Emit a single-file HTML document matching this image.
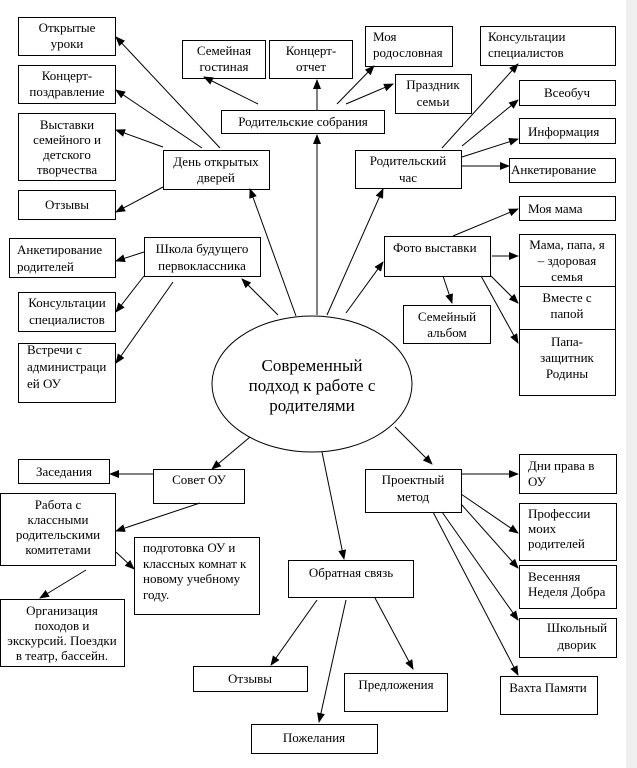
<!DOCTYPE html>
<html><head><meta charset="utf-8"><style>
html,body{margin:0;padding:0;background:#fff}
svg{display:block}
text{font-family:"Liberation Serif","DejaVu Serif",serif;font-size:13px;fill:#000}
</style></head><body>
<svg width="637" height="768" viewBox="0 0 637 768" xmlns="http://www.w3.org/2000/svg">
<defs><marker id="a" markerWidth="10" markerHeight="8" refX="9" refY="4" orient="auto" markerUnits="userSpaceOnUse"><path d="M0,0 L10,4 L0,8 z" fill="#000"/></marker></defs>
<rect x="626" y="0" width="11" height="768" fill="#f0f0f0"/>
<g fill="#fff" stroke="#000" stroke-width="1">
<rect x="18.5" y="17.5" width="97" height="38"/>
<rect x="18.5" y="65.5" width="97" height="38"/>
<rect x="18.5" y="113.5" width="97" height="67"/>
<rect x="18.5" y="190.5" width="97" height="29"/>
<rect x="163.5" y="150.5" width="106" height="39"/>
<rect x="182.5" y="40.5" width="83" height="38"/>
<rect x="269.5" y="40.5" width="83" height="38"/>
<rect x="221.5" y="110.5" width="163" height="23"/>
<rect x="9.5" y="238.5" width="106" height="39"/>
<rect x="144.5" y="237.5" width="116" height="39"/>
<rect x="18.5" y="292.5" width="97" height="39"/>
<rect x="18.5" y="343.5" width="97" height="59"/>
<rect x="365.5" y="26.5" width="87" height="40"/>
<rect x="395.5" y="74.5" width="76" height="39"/>
<rect x="480.5" y="26.5" width="135" height="39"/>
<rect x="519.5" y="80.5" width="96" height="25"/>
<rect x="519.5" y="118.5" width="96" height="25"/>
<rect x="355.5" y="150.5" width="106" height="38"/>
<rect x="509.5" y="158.5" width="106" height="24"/>
<rect x="519.5" y="196.5" width="96" height="24"/>
<rect x="384.5" y="236.5" width="106" height="40"/>
<rect x="519.5" y="234.5" width="96" height="52"/>
<rect x="519.5" y="286.5" width="96" height="43"/>
<rect x="519.5" y="329.5" width="96" height="66"/>
<rect x="403.5" y="305.5" width="87" height="38"/>
<ellipse cx="312" cy="384" rx="100" ry="68"/>
<rect x="18.5" y="459.5" width="91" height="24"/>
<rect x="153.5" y="469.5" width="91" height="34"/>
<rect x="0.5" y="493.5" width="115" height="72"/>
<rect x="134.5" y="537.5" width="125" height="77"/>
<rect x="0.5" y="599.5" width="124" height="67"/>
<rect x="193.5" y="666.5" width="114" height="25"/>
<rect x="288.5" y="560.5" width="125" height="37"/>
<rect x="251.5" y="724.5" width="126" height="29"/>
<rect x="365.5" y="469.5" width="96" height="43"/>
<rect x="519.5" y="454.5" width="97" height="39"/>
<rect x="519.5" y="503.5" width="97" height="57"/>
<rect x="519.5" y="565.5" width="97" height="43"/>
<rect x="519.5" y="618.5" width="97" height="39"/>
<rect x="500.5" y="676.5" width="97" height="38"/>
<rect x="344.5" y="673.5" width="103" height="38"/>
</g>
<g stroke="#000" stroke-width="1" marker-end="url(#a)">
<line x1="296" y1="316" x2="250" y2="189"/>
<line x1="278" y1="315" x2="242" y2="279"/>
<line x1="317" y1="315" x2="317" y2="135"/>
<line x1="317" y1="110" x2="317" y2="80"/>
<line x1="258" y1="104" x2="204" y2="77"/>
<line x1="337" y1="104" x2="374" y2="66"/>
<line x1="346" y1="104" x2="393" y2="84"/>
<line x1="327" y1="315" x2="383" y2="189"/>
<line x1="346" y1="313" x2="383" y2="262"/>
<line x1="220" y1="148" x2="116" y2="37"/>
<line x1="202" y1="148" x2="116" y2="90"/>
<line x1="163" y1="147" x2="116" y2="130"/>
<line x1="163" y1="187" x2="116" y2="212"/>
<line x1="144" y1="252" x2="116" y2="261"/>
<line x1="144" y1="276" x2="116" y2="312"/>
<line x1="173" y1="282" x2="116" y2="363"/>
<line x1="442" y1="148" x2="518" y2="64"/>
<line x1="462" y1="146" x2="518" y2="100"/>
<line x1="462" y1="157" x2="518" y2="139"/>
<line x1="462" y1="166" x2="509" y2="166"/>
<line x1="453" y1="236" x2="518" y2="209"/>
<line x1="492" y1="256" x2="518" y2="256"/>
<line x1="491" y1="276" x2="518" y2="303"/>
<line x1="481" y1="276" x2="518" y2="343"/>
<line x1="443" y1="276" x2="452" y2="303"/>
<line x1="250" y1="437" x2="212" y2="469"/>
<line x1="153" y1="474" x2="110" y2="474"/>
<line x1="200" y1="503" x2="116" y2="531"/>
<line x1="116" y1="552" x2="134" y2="569"/>
<line x1="86" y1="570" x2="40" y2="598"/>
<line x1="322" y1="452" x2="344" y2="559"/>
<line x1="317" y1="600" x2="271" y2="665"/>
<line x1="346" y1="600" x2="319" y2="722"/>
<line x1="375" y1="598" x2="413" y2="669"/>
<line x1="395" y1="427" x2="432" y2="464"/>
<line x1="461" y1="474" x2="518" y2="474"/>
<line x1="461" y1="494" x2="518" y2="533"/>
<line x1="461" y1="504" x2="518" y2="568"/>
<line x1="442" y1="512" x2="518" y2="620"/>
<line x1="433" y1="512" x2="518" y2="675"/>
</g>
<g text-anchor="middle">
<text x="67" y="32">Открытые</text><text x="67" y="48">уроки</text>
<text x="67" y="80">Концерт-</text><text x="67" y="96">поздравление</text>
<text x="67" y="129">Выставки</text><text x="67" y="144">семейного и</text><text x="67" y="159">детского</text><text x="67" y="174">творчества</text>
<text x="67" y="209">Отзывы</text>
<text x="216" y="166">День открытых</text><text x="216" y="182">дверей</text>
<text x="224" y="55">Семейная</text><text x="224" y="71">гостиная</text>
<text x="311" y="55">Концерт-</text><text x="311" y="71">отчет</text>
<text x="303" y="126">Родительские собрания</text>
<text x="202" y="253">Школа будущего</text><text x="202" y="270">первоклассника</text>
<text x="67" y="307">Консультации</text><text x="67" y="324">специалистов</text>
<text x="433" y="89">Праздник</text><text x="433" y="106">семьи</text>
<text x="567" y="97">Всеобуч</text>
<text x="408" y="165">Родительский</text><text x="408" y="182">час</text>
<text x="567" y="249">Мама, папа, я</text><text x="567" y="265">– здоровая</text><text x="567" y="281">семья</text>
<text x="567" y="302">Вместе с</text><text x="567" y="318">папой</text>
<text x="567" y="346">Папа-</text><text x="567" y="362">защитник</text><text x="567" y="378">Родины</text>
<text x="447" y="321">Семейный</text><text x="447" y="337">альбом</text>
<text x="312" y="371" style="font-size:17px">Современный</text>
<text x="312" y="391" style="font-size:17px">подход к работе с</text>
<text x="312" y="411" style="font-size:17px">родителями</text>
<text x="64" y="476">Заседания</text>
<text x="199" y="484">Совет ОУ</text>
<text x="58" y="509">Работа с</text><text x="58" y="524">классными</text><text x="58" y="539">родительскими</text><text x="58" y="554">комитетами</text>
<text x="62" y="615">Организация</text><text x="62" y="630">походов и</text><text x="62" y="645">экскурсий. Поездки</text><text x="62" y="660">в театр, бассейн.</text>
<text x="250" y="683">Отзывы</text>
<text x="351" y="577">Обратная связь</text>
<text x="314" y="742">Пожелания</text>
<text x="413" y="484">Проектный</text><text x="413" y="501">метод</text>
<text x="577" y="632">Школьный</text><text x="577" y="649">дворик</text>
<text x="548" y="692">Вахта Памяти</text>
<text x="396" y="689">Предложения</text>
</g>
<g>
<text x="27" y="354">Встречи с</text><text x="27" y="371">администраци</text><text x="27" y="388">ей ОУ</text>
<text x="17" y="254">Анкетирование</text><text x="17" y="271">родителей</text>
<text x="373" y="41">Моя</text><text x="373" y="57">родословная</text>
<text x="488" y="41">Консультации</text><text x="488" y="57">специалистов</text>
<text x="528" y="136">Информация</text>
<text x="511" y="174">Анкетирование</text>
<text x="528" y="213">Моя мама</text>
<text x="393" y="252">Фото выставки</text>
<text x="143" y="552">подготовка ОУ и</text><text x="143" y="568">классных комнат к</text><text x="143" y="583">новому учебному</text><text x="143" y="599">году.</text>
<text x="528" y="470">Дни права в</text><text x="528" y="486">ОУ</text>
<text x="528" y="518">Профессии</text><text x="528" y="533">моих</text><text x="528" y="548">родителей</text>
<text x="528" y="581">Весенняя</text><text x="528" y="596">Неделя Добра</text>
</g>
</svg>
</body></html>
